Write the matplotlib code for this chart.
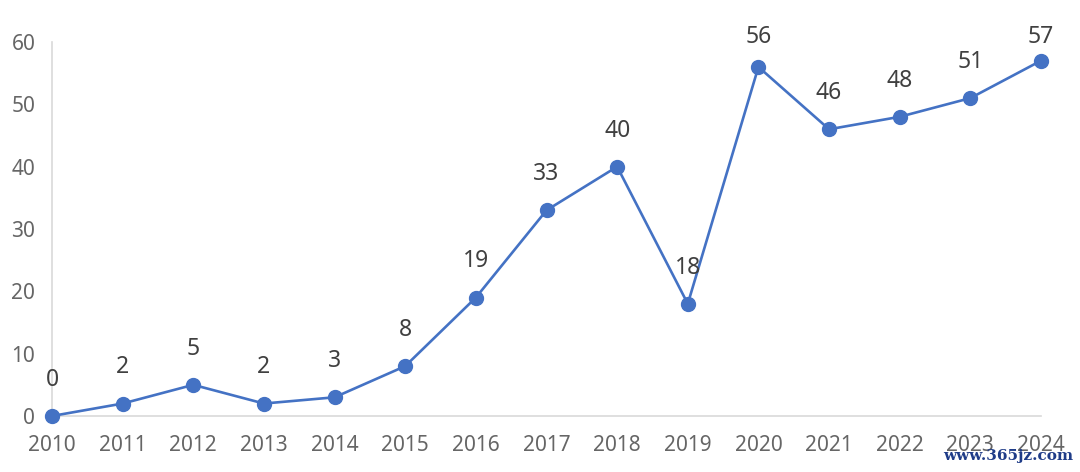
import matplotlib

matplotlib.use("Agg")
import matplotlib.pyplot as plt

YEARS = list(range(2010, 2025))
COUNTS = [0, 2, 5, 2, 3, 8, 19, 33, 40, 18, 56, 46, 48, 51, 57]
YTICKS = [0, 10, 20, 30, 40, 50, 60]

BLUE = "#4472C4"
TICK = "#666666"
LABEL = "#404040"
AXIS = "#D9D9D9"

plt.rcParams["font.family"] = ["Noto Sans", "DejaVu Sans"]

fig = plt.figure(figsize=(10.8, 4.72), dpi=100)
ax = fig.add_axes([52 / 1080, 56 / 472, (1041 - 52) / 1080, (416 - 42) / 472])

ax.plot(YEARS, COUNTS, color=BLUE, lw=1.9, marker="o", ms=10,
        markeredgecolor=BLUE, markerfacecolor=BLUE, clip_on=False, zorder=3)
# labels sit ~36px above the point, but never higher than the chart top allows
for x, v in zip(YEARS, COUNTS):
    ax.text(x, min(v + 5.8, 60.8), str(v), ha="center", va="center",
            fontsize=16.5, color=LABEL, clip_on=False)

ax.set_xlim(2010, 2024)
ax.set_ylim(0, 60)
ax.set_xticks(YEARS)
ax.set_yticks(YTICKS)
ax.tick_params(length=0, labelsize=15, labelcolor=TICK)
ax.tick_params(axis="x", pad=14)
ax.tick_params(axis="y", pad=12)
for s in ("top", "right"):
    ax.spines[s].set_visible(False)
for s in ("left", "bottom"):
    ax.spines[s].set_color(AXIS)
    ax.spines[s].set_linewidth(1.2)

fig.text(1073 / 1080, 1 - 456 / 472, "www.365jz.com", ha="right", va="center",
         fontsize=11, color="#1f3c88", family="DejaVu Serif", fontweight="bold")

fig.savefig("out.png", dpi=100)
